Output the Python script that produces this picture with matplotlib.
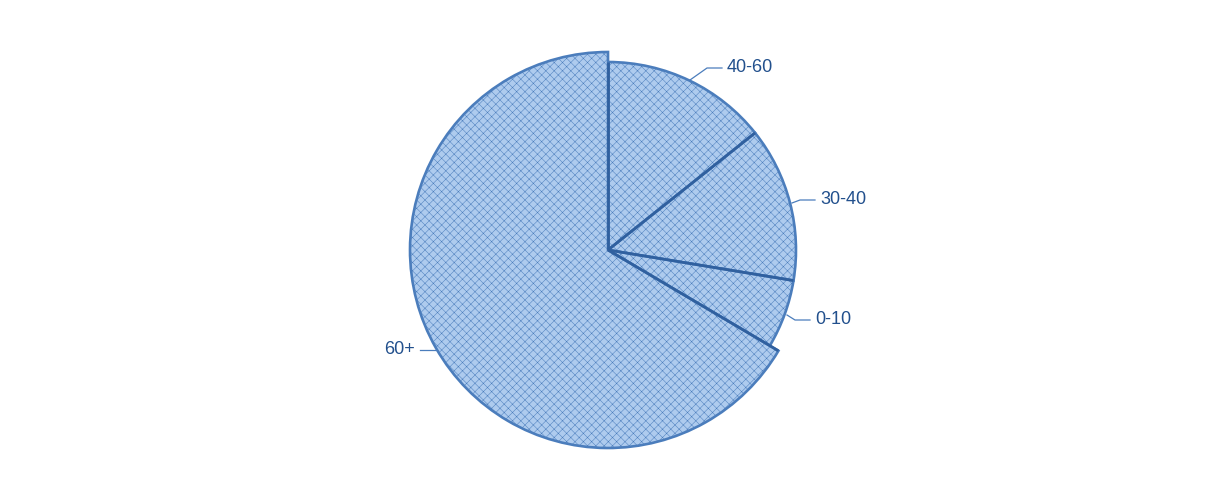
import matplotlib
matplotlib.use("Agg")
import matplotlib.pyplot as plt
import numpy as np
from matplotlib.patches import Wedge

# slices in drawing order, clockwise from 12 o'clock
labels = ["40-60", "30-40", "0-10", "60+"]
values = [14.3, 13.3, 5.9, 66.5]
radii = [188, 188, 188, 198]

plt.rcParams['font.family'] = ['Liberation Sans', 'DejaVu Sans']
plt.rcParams['hatch.linewidth'] = 0.35
plt.rcParams['hatch.color'] = '#7fa8db'

fig = plt.figure(figsize=(12.17, 5), dpi=100)
ax = fig.add_axes([0, 0, 1, 1])
ax.set_xlim(0, 1217)
ax.set_ylim(0, 500)
ax.set_aspect('equal')
ax.axis('off')

cx, cy = 608, 250
total = sum(values)
edge = '#4b7dbc'
fill = '#aecbee'
txt = '#22508d'

# leader geometry (pixel space, y up)
lab_pos = {
    "40-60": ((690, 420), (707, 432), (722, 432), 'left'),
    "30-40": ((792, 297), (800, 300), (815, 300), 'left'),
    "0-10": ((787, 185), (795, 180), (810, 180), 'left'),
    "60+": ((437, 150), (430, 150), (420, 150), 'right'),
}

cum = 0
for lab, v, r in zip(labels, values, radii):
    t2 = 90 - 360 * cum / total
    cum += v
    t1 = 90 - 360 * cum / total
    w = Wedge((cx, cy), r, t1, t2, facecolor=fill, edgecolor=edge,
              linewidth=1.9, hatch='xxxx', joinstyle='miter')
    ax.add_patch(w)

# darker separators on top
cum = 0
for lab, v, r in zip(labels, values, radii):
    a = np.deg2rad(90 - 360 * cum / total)
    ax.plot([cx, cx + r * np.cos(a)], [cy, cy + r * np.sin(a)],
            color='#30609f', lw=2.0, solid_capstyle='butt')
    cum += v

for lab in labels:
    p0, p1, p2, ha = lab_pos[lab]
    ax.plot([p0[0], p1[0], p2[0]], [p0[1], p1[1], p2[1]], color='#4b7dbc', lw=0.9)
    tx = p2[0] + 5 if ha == 'left' else p2[0] - 5
    ax.text(tx, p2[1], lab, ha=ha, va='center', fontsize=13, color=txt)

fig.savefig('out.png', dpi=100)
